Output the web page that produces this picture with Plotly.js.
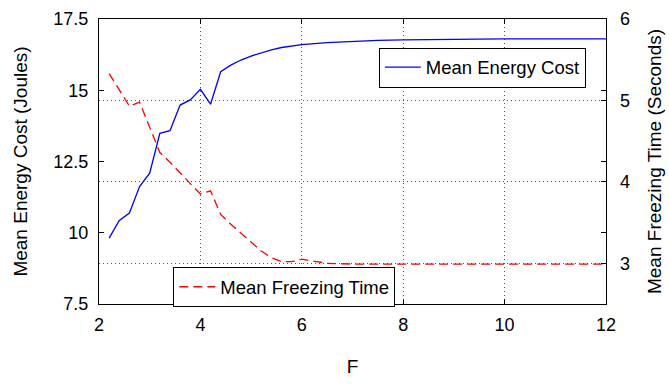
<!DOCTYPE html>
<html>
<head>
<meta charset="utf-8">
<script src="https://cdn.plot.ly/plotly-3.0.1.min.js"></script>
<style>html,body{margin:0;padding:0;background:#fff;}#chart{width:669px;height:387px;}</style>
</head>
<body>
<div id="chart"></div>
<script>
const fValues = [2.2,2.4,2.6,2.8,3.0,3.2,3.4,3.6,3.8,4.0,4.2,4.4,4.6,4.8,5.0,5.2,5.4,5.6,5.8,6.0,6.5,7,7.5,8,9,10,11,12];
const energyCost = [9.81,10.43,10.69,11.62,12.09,13.49,13.58,14.48,14.66,15.03,14.51,15.65,15.88,16.06,16.2,16.32,16.42,16.5,16.56,16.6,16.67,16.72,16.75,16.77,16.79,16.8,16.8,16.8];
const freezingTime = [5.33,5.13,4.93,4.98,4.67,4.36,4.24,4.11,3.97,3.85,3.89,3.6,3.48,3.37,3.25,3.15,3.07,3.02,3.02,3.05,3.0,2.99,2.99,2.99,2.99,2.99,2.99,2.99];
const xTicks = [2,4,6,8,10,12];
const leftTicks = [7.5,10,12.5,15,17.5];
const leftTickText = ['7.5','10','12.5','15','17.5'];
const rightTicks = [3,4,5,6];

const fam = '"Liberation Sans", Arial, sans-serif';
const tickFont = {family: fam, size: 18, color: '#000'};
const titleFont = {family: fam, size: 19, color: '#000'};
const legendFont = {family: fam, size: 18.5, color: '#000'};

const traces = [
  {x: fValues, y: energyCost, type: 'scatter', mode: 'lines', name: 'Mean Energy Cost',
   line: {color: '#0000ff', width: 1.3}, yaxis: 'y', legend: 'legend'},
  {x: fValues, y: freezingTime, type: 'scatter', mode: 'lines', name: 'Mean Freezing Time',
   line: {color: '#ff0000', width: 1.3, dash: '9px,5px'}, yaxis: 'y2', legend: 'legend2'}
];

const layout = {
  width: 669, height: 387,
  margin: {l: 99, r: 63, t: 19, b: 83},
  paper_bgcolor: '#fff', plot_bgcolor: '#fff',
  font: tickFont,
  xaxis: {range: [2, 12], tickvals: xTicks, ticks: 'inside', ticklen: 5, tickcolor: '#000',
    showline: true, linecolor: '#000', linewidth: 1, mirror: 'ticks',
    showgrid: true, gridcolor: '#555', griddash: '1px,3px', gridwidth: 1, zeroline: false,
    ticklabelstandoff: 4, automargin: false,
    title: {text: 'F', font: titleFont, standoff: 26}, tickfont: tickFont},
  yaxis: {range: [7.5, 17.5], tickvals: leftTicks, ticktext: leftTickText, ticks: 'inside', ticklen: 5,
    tickcolor: '#000', showline: true, linecolor: '#000', linewidth: 1, mirror: 'ticks',
    showgrid: false, zeroline: false, tickfont: tickFont, ticklabelstandoff: 6, automargin: false,
    title: {text: 'Mean Energy Cost (Joules)', font: titleFont, standoff: 20}},
  yaxis2: {range: [2.5, 6], tickvals: rightTicks, overlaying: 'y', side: 'right', ticks: 'inside', ticklen: 5,
    tickcolor: '#000', showline: false, showgrid: true, gridcolor: '#555', griddash: '1px,3px', gridwidth: 1,
    zeroline: false, tickfont: tickFont, ticklabelstandoff: 13, automargin: false,
    title: {text: 'Mean Freezing Time (Seconds)', font: titleFont, standoff: 18}},
  legend: {x: 0.552, y: 0.90, xanchor: 'left', yanchor: 'top', bgcolor: '#fff', bordercolor: '#000',
    borderwidth: 1, font: legendFont, tracegroupgap: 0, itemwidth: 36},
  legend2: {x: 0.1466, y: 0.129, xanchor: 'left', yanchor: 'top', bgcolor: '#fff', bordercolor: '#000',
    borderwidth: 1, font: legendFont, tracegroupgap: 0, itemwidth: 36},
  showlegend: true
};

Plotly.newPlot('chart', traces, layout, {staticPlot: true, displayModeBar: false});
</script>
</body>
</html>
